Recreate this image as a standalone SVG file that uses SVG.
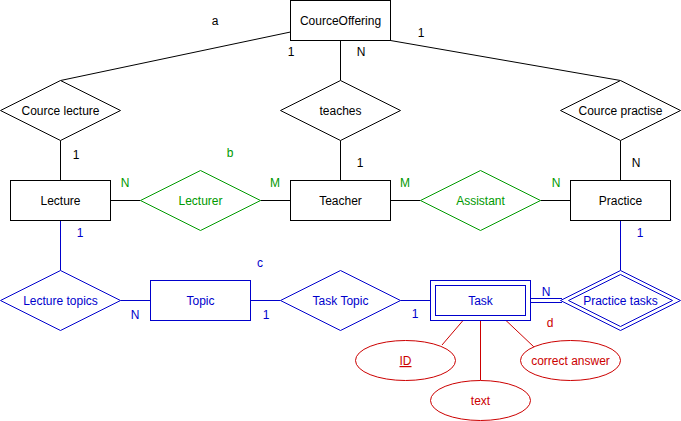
<svg xmlns="http://www.w3.org/2000/svg" width="681" height="421" viewBox="0 0 681 421">
<style>
text{font-family:"Liberation Sans",Arial,sans-serif;font-size:12px;text-anchor:middle;}
.k{fill:#000}.g{fill:#009900}.b{fill:#0000CC}.r{fill:#CC0000}
.sk{fill:#fff;stroke:#000;stroke-width:1}
.sg{fill:#fff;stroke:#009900;stroke-width:1}
.sb{fill:#fff;stroke:#0000CC;stroke-width:1}
.sr{fill:#fff;stroke:#CC0000;stroke-width:1}
.lk{stroke:#000;fill:none}.lg{stroke:#009900;fill:none}.lb{stroke:#0000CC;fill:none}.lr{stroke:#CC0000;fill:none}
</style>
<rect width="681" height="421" fill="#fff"/>
<g id="connectors">
<line class="lk" x1="290.5" y1="32" x2="60.5" y2="80.5"/>
<line class="lk" x1="340.5" y1="40.5" x2="340.5" y2="80.5"/>
<line class="lk" x1="390.5" y1="40.5" x2="620.5" y2="80.5"/>
<line class="lk" x1="60.5" y1="140.5" x2="60.5" y2="180.5"/>
<line class="lk" x1="340.5" y1="140.5" x2="340.5" y2="180.5"/>
<line class="lk" x1="620.5" y1="140.5" x2="620.5" y2="180.5"/>
<line class="lk" x1="110.5" y1="200.5" x2="140.5" y2="200.5"/>
<line class="lk" x1="260.5" y1="200.5" x2="290.5" y2="200.5"/>
<line class="lk" x1="390.5" y1="200.5" x2="420.5" y2="200.5"/>
<line class="lk" x1="540.5" y1="200.5" x2="570.5" y2="200.5"/>
<line class="lb" x1="60.5" y1="220.5" x2="60.5" y2="270.5"/>
<line class="lb" x1="620.5" y1="220.5" x2="620.5" y2="270.5"/>
<line class="lb" x1="120.5" y1="300.5" x2="150.5" y2="300.5"/>
<line class="lb" x1="250.5" y1="300.5" x2="280.5" y2="300.5"/>
<line class="lb" x1="400.5" y1="300.5" x2="430.5" y2="300.5"/>
<line class="lb" x1="530.5" y1="298.5" x2="562" y2="298.5"/>
<line class="lb" x1="530.5" y1="302.5" x2="562" y2="302.5"/>
<line class="lr" x1="463" y1="320.5" x2="442" y2="345"/>
<line class="lr" x1="480.5" y1="320.5" x2="480.5" y2="380.5"/>
<line class="lr" x1="506" y1="320.5" x2="534" y2="347"/>
</g>
<g id="CourceOffering"><rect class="sk" x="290.5" y="0.5" width="100" height="40"/><text class="k" x="340.5" y="25">CourceOffering</text></g>
<g id="CourceLecture"><polygon class="sk" points="60.5,80.5 120.5,110.5 60.5,140.5 0.5,110.5"/><text class="k" x="60.5" y="115">Cource lecture</text></g>
<g id="teaches"><polygon class="sk" points="340.5,80.5 400.5,110.5 340.5,140.5 280.5,110.5"/><text class="k" x="340.5" y="115">teaches</text></g>
<g id="CourcePractise"><polygon class="sk" points="620.5,80.5 680.5,110.5 620.5,140.5 560.5,110.5"/><text class="k" x="620.5" y="115">Cource practise</text></g>
<g id="Lecture"><rect class="sk" x="10.5" y="180.5" width="100" height="40"/><text class="k" x="60.5" y="205">Lecture</text></g>
<g id="Lecturer"><polygon class="sg" points="200.5,170.5 260.5,200.5 200.5,230.5 140.5,200.5"/><text class="g" x="200.5" y="205">Lecturer</text></g>
<g id="Teacher"><rect class="sk" x="290.5" y="180.5" width="100" height="40"/><text class="k" x="340.5" y="205">Teacher</text></g>
<g id="Assistant"><polygon class="sg" points="480.5,170.5 540.5,200.5 480.5,230.5 420.5,200.5"/><text class="g" x="480.5" y="205">Assistant</text></g>
<g id="Practice"><rect class="sk" x="570.5" y="180.5" width="100" height="40"/><text class="k" x="620.5" y="205">Practice</text></g>
<g id="LectureTopics"><polygon class="sb" points="60.5,270.5 120.5,300.5 60.5,330.5 0.5,300.5"/><text class="b" x="60.5" y="305">Lecture topics</text></g>
<g id="Topic"><rect class="sb" x="150.5" y="280.5" width="100" height="40"/><text class="b" x="200.5" y="305">Topic</text></g>
<g id="TaskTopic"><polygon class="sb" points="340.5,270.5 400.5,300.5 340.5,330.5 280.5,300.5"/><text class="b" x="340.5" y="305">Task Topic</text></g>
<g id="Task"><rect class="sb" x="430.5" y="280.5" width="100" height="40"/><rect class="sb" x="435.5" y="285.5" width="90" height="30"/><text class="b" x="480.5" y="305">Task</text></g>
<g id="PracticeTasks"><polygon class="sb" points="620.5,270.5 680.5,300.5 620.5,330.5 560.5,300.5"/><polygon class="sb" points="620.5,274.5 672.5,300.5 620.5,326.5 568.5,300.5"/><text class="b" x="620.5" y="305">Practice tasks</text></g>
<g id="ID"><ellipse class="sr" cx="405.5" cy="360.5" rx="50" ry="20"/><text class="r" x="405.5" y="365" text-decoration="underline">ID</text></g>
<g id="text"><ellipse class="sr" cx="480.5" cy="400.5" rx="50" ry="20"/><text class="r" x="480.5" y="405">text</text></g>
<g id="CorrectAnswer"><ellipse class="sr" cx="570.5" cy="360.5" rx="50" ry="20"/><text class="r" x="570.5" y="365">correct answer</text></g>
<g id="labels">
<text class="k" x="215" y="25">a</text>
<text class="k" x="291" y="56">1</text>
<text class="k" x="361" y="56">N</text>
<text class="k" x="421" y="37">1</text>
<text class="k" x="76" y="159">1</text>
<text class="g" x="230" y="157">b</text>
<text class="k" x="360" y="167">1</text>
<text class="k" x="636" y="167">N</text>
<text class="g" x="125" y="187">N</text>
<text class="g" x="275" y="187">M</text>
<text class="g" x="405" y="187">M</text>
<text class="g" x="556" y="187">N</text>
<text class="b" x="80" y="237">1</text>
<text class="b" x="640" y="237">1</text>
<text class="b" x="260" y="267">c</text>
<text class="b" x="135" y="319">N</text>
<text class="b" x="266" y="319">1</text>
<text class="b" x="415" y="318">1</text>
<text class="b" x="546" y="296">N</text>
<text class="r" x="550" y="327">d</text>
</g>
</svg>
